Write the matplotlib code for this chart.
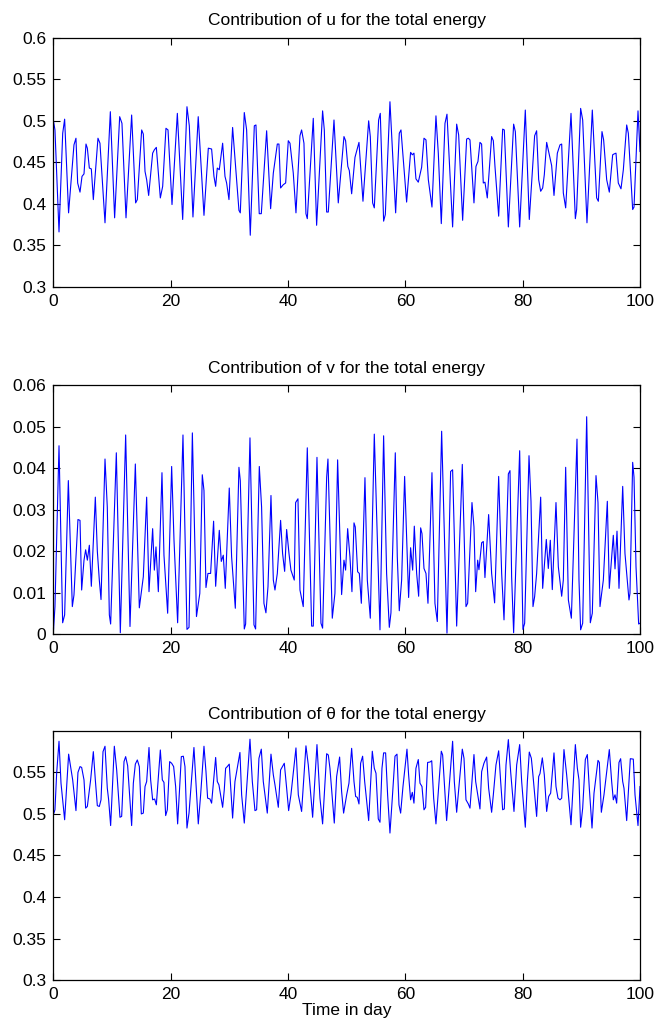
import matplotlib
matplotlib.use("Agg")
import matplotlib.pyplot as plt
from matplotlib.ticker import FormatStrFormatter

plt.rcParams["font.family"] = ["Liberation Sans", "DejaVu Sans"]

# Contribution of u (vertices)
t_u = [0, 0.28, 0.97, 1.6, 1.93, 2.6, 3.52, 3.86, 4.15, 4.55, 4.89, 5.23, 5.57, 5.8, 6.14, 6.48, 6.82,
       7.61, 7.95, 8.81, 9.72, 10.45, 11.31, 11.7, 12.39, 13.35, 14.03, 14.32, 15.06, 15.34, 15.63,
       15.91, 16.25, 16.93, 17.22, 17.56, 18.24, 18.64, 19.2, 19.55, 20.23, 21.14, 22.05, 22.78,
       23.18, 23.8, 24.7,
       25.68, 26.42, 26.98, 27.38, 27.67, 27.95, 28.29, 28.86, 29.26, 29.54, 29.94, 30.56, 31.64,
       31.87, 32.55, 32.95, 33.57, 34.26, 34.54, 35.1, 35.45, 36.36, 37.04, 37.5, 38.18, 38.46,
       38.74, 39.2, 39.6, 40.05, 40.34, 40.9, 41.36, 42.04, 42.32, 42.72, 43.06, 43.29, 44.31,
       44.88, 45.9, 46.19, 46.59, 46.87, 47.84, 48.57, 49.54, 49.82,
       50.2, 50.45, 50.85, 51.42, 52.1, 52.78, 53.75, 54.03, 54.43, 54.71, 55.45, 55.73, 56.3,
       56.59, 57.38, 58.35, 58.97, 59.26, 60.22, 60.9, 61.19, 61.47, 61.81, 62.21, 62.78, 63.18,
       63.52, 63.92, 64.54, 65.22, 65.62, 66.13, 66.76, 67.1, 68.06, 68.75, 69.09, 69.77, 70.45,
       70.74, 71.02, 71.7, 72.04, 72.38, 72.72, 73.0, 73.29, 73.57, 73.97, 74.71, 75.0,
       75.28, 75.91, 76.59, 76.87, 77.56, 78.46, 78.75, 79.49, 80.45, 81.13, 82.04, 82.38, 82.73,
       83.07, 83.41, 83.69, 84.09, 84.49, 84.94, 85.34, 85.91, 86.36, 86.65, 86.93, 87.33, 88.24,
       88.98, 89.2, 89.88, 90.23, 90.96, 91.87, 92.61, 92.9, 93.52, 93.8, 94.32, 94.77, 95.34,
       95.57, 95.91, 96.3, 96.76, 97.16, 97.73, 98.01, 98.75, 98.98, 99.66, 100]
u_vals = [0.501, 0.489, 0.366, 0.485, 0.502, 0.389, 0.471, 0.479, 0.425, 0.414, 0.433, 0.436, 0.472,
          0.467, 0.443, 0.442, 0.405, 0.479, 0.473, 0.377, 0.511, 0.383, 0.505, 0.497, 0.383, 0.507,
          0.401, 0.405, 0.489, 0.484, 0.439, 0.429, 0.410, 0.461, 0.465, 0.468, 0.407, 0.421, 0.491,
          0.489, 0.399, 0.509, 0.381, 0.517, 0.494, 0.384, 0.505,
          0.386, 0.467, 0.466, 0.433, 0.421, 0.443, 0.441, 0.473, 0.433, 0.425, 0.405, 0.492, 0.392,
          0.389, 0.510, 0.489, 0.362, 0.494, 0.495, 0.388, 0.388, 0.488, 0.394, 0.437, 0.472, 0.472,
          0.419, 0.423, 0.425, 0.476, 0.473, 0.437, 0.389, 0.482, 0.489, 0.473, 0.388, 0.382, 0.503,
          0.374, 0.512, 0.489, 0.390, 0.390, 0.501, 0.401, 0.481, 0.476,
          0.445, 0.440, 0.412, 0.456, 0.474, 0.403, 0.500, 0.481, 0.401, 0.395, 0.501, 0.509, 0.379,
          0.387, 0.523, 0.389, 0.485, 0.489, 0.402, 0.462, 0.459, 0.461, 0.430, 0.426, 0.444, 0.479,
          0.477, 0.429, 0.396, 0.506, 0.461, 0.376, 0.497, 0.508, 0.372, 0.496, 0.483, 0.380, 0.478,
          0.479, 0.477, 0.401, 0.445, 0.451, 0.474, 0.472, 0.425, 0.426, 0.407, 0.481, 0.476,
          0.445, 0.385, 0.490, 0.489, 0.372, 0.496, 0.487, 0.372, 0.513, 0.381, 0.482, 0.488, 0.429,
          0.415, 0.419, 0.435, 0.474, 0.461, 0.446, 0.410, 0.461, 0.471, 0.472, 0.413, 0.395, 0.509,
          0.382, 0.393, 0.515, 0.501, 0.377, 0.513, 0.407, 0.403, 0.487, 0.477, 0.429, 0.414, 0.459,
          0.460, 0.461, 0.425, 0.418, 0.441, 0.495, 0.485, 0.393, 0.396, 0.512, 0.463]

# Contribution of v
t_v = [0, 0.28, 0.97, 1.59, 1.93, 2.56, 3.24, 3.52, 4.2, 4.55, 4.83, 5.23, 5.51, 5.8, 6.14, 6.48,
       7.16, 7.5, 7.84, 8.13, 8.81, 9.2, 9.55, 9.77, 10.74, 11.42, 12.33, 13.07, 13.98, 14.66,
       15.34, 15.91, 16.31, 16.93, 17.22, 17.5, 17.9, 18.52, 18.86, 19.49, 20.17, 20.57, 21.19,
       22.1, 22.78, 23.13, 23.7, 24.4, 24.97,
       25.39, 25.68, 26.02, 26.36, 26.81, 27.32, 27.67, 28.29, 28.63, 28.97, 29.31, 29.99, 30.39,
       31.02, 31.64, 31.87, 32.55, 32.78, 33.52, 34.2, 34.48, 35.11, 35.5, 35.9, 36.24, 36.59,
       37.1, 37.5, 37.78, 38.18, 38.74, 39.08, 39.43, 39.77, 40.17, 40.5, 41.07, 41.3, 41.7,
       42.04, 42.6, 43.29, 44.03, 44.31, 44.94, 45.62, 45.9, 46.59, 46.81, 47.55, 48.0, 48.46,
       49.14, 49.54, 49.82,
       50.17, 50.56, 50.9, 51.25, 51.47, 51.87, 52.16, 52.5, 53.12, 53.52, 54.03, 54.71, 55.68,
       56.3, 56.81, 57.27, 57.55, 58.29, 58.63, 58.97, 59.37, 59.88, 60.56, 60.9, 61.25, 61.53,
       61.93, 62.27, 62.61, 62.84, 63.18, 63.52, 63.86, 64.54, 65.05, 65.45, 66.19, 67.1, 67.72,
       68.06, 68.75, 69.71, 70.34, 70.62, 71.36, 71.7, 71.99, 72.33, 72.55, 73.01, 73.29, 73.57,
       74.2, 74.71,
       75.22, 75.91, 76.42, 76.82, 77.56, 77.84, 78.12, 78.46, 79.49, 80.05, 80.34, 81.08, 81.42,
       81.76, 82.04, 82.38, 83.07, 83.41, 84.03, 84.37, 84.71, 85.05, 85.68, 86.08, 86.65, 86.93,
       87.33, 87.79, 88.3, 89.26, 89.6, 89.88, 90.23, 90.91, 91.53, 91.87, 92.5, 92.84, 93.18,
       93.75, 94.43, 94.77, 95.45, 95.74, 96.08, 96.42, 97.05, 97.44, 98.12, 98.29, 98.75, 98.98,
       99.32, 99.77, 100]
v_vals = [0.0002, 0.0066, 0.0454, 0.0027, 0.0046, 0.037, 0.0066, 0.0094, 0.0276, 0.0274, 0.0106,
          0.0178, 0.0203, 0.0178, 0.0214, 0.0115, 0.033, 0.020, 0.013, 0.0083, 0.0422, 0.0306,
          0.0046, 0.0024, 0.0437, 0.0003, 0.048, 0.0018, 0.041, 0.0063, 0.0138, 0.033, 0.0102,
          0.0254, 0.0154, 0.021, 0.0102, 0.0389, 0.019, 0.005, 0.0404, 0.0226, 0.0027, 0.048,
          0.0011, 0.0016, 0.0485, 0.0042, 0.0098,
          0.0384, 0.0346, 0.0112, 0.0146, 0.0146, 0.0272, 0.0115, 0.025, 0.0175, 0.019, 0.011,
          0.0352, 0.0186, 0.0062, 0.0402, 0.037, 0.0012, 0.0024, 0.0473, 0.0022, 0.0012, 0.0404,
          0.0306, 0.0074, 0.0051, 0.0114, 0.0334, 0.013, 0.0106, 0.0146, 0.0274, 0.0194, 0.0151,
          0.0252, 0.0194, 0.0154, 0.013, 0.0317, 0.0326, 0.0106, 0.0066, 0.0449, 0.0019, 0.0019,
          0.0426, 0.0026, 0.0014, 0.0378, 0.0422, 0.0038, 0.0098, 0.042, 0.0095, 0.0178, 0.0154,
          0.0254, 0.0186, 0.0102, 0.0268, 0.0258, 0.015, 0.0146, 0.0074, 0.0377, 0.013, 0.0038,
          0.0482, 0.001, 0.0478, 0.0146, 0.0016, 0.0051, 0.0437, 0.0186, 0.0056, 0.013, 0.038,
          0.0088, 0.0208, 0.0154, 0.026, 0.0146, 0.0091, 0.0256, 0.0242, 0.0158, 0.0146, 0.0074,
          0.0389, 0.0074, 0.003, 0.0489, 0.0002, 0.0392, 0.0396, 0.0019, 0.0409, 0.0066, 0.0074,
          0.0317, 0.0258, 0.0102, 0.0178, 0.0155, 0.022, 0.0223, 0.0136, 0.0288, 0.0146,
          0.0075, 0.038, 0.0146, 0.0034, 0.0386, 0.0394, 0.0138, 0.0003, 0.0442, 0.0011, 0.0026,
          0.043, 0.032, 0.0066, 0.009, 0.0146, 0.033, 0.011, 0.0228, 0.0158, 0.0226, 0.0107,
          0.0317, 0.0162, 0.0091, 0.013, 0.0402, 0.0082, 0.0038, 0.047, 0.013, 0.001, 0.0026,
          0.0524, 0.0027, 0.005, 0.0382, 0.0317, 0.0066, 0.013, 0.032, 0.011, 0.0238, 0.0157,
          0.0248, 0.011, 0.0356, 0.0194, 0.0082, 0.0098, 0.0414, 0.0378, 0.0162, 0.0024, 0.0026]

# Contribution of theta
t_th = [0, 0.28, 0.57, 0.97, 1.31, 1.93, 2.61, 2.95, 3.3, 3.86, 4.2, 4.55, 4.83, 5.23, 5.51, 5.8,
        6.14, 6.36, 6.82, 7.16, 7.5, 7.84, 8.13, 8.47, 8.81, 9.2, 9.43, 9.77, 10.4, 10.8, 11.36,
        11.65, 12.05, 12.33, 12.67, 13.35, 13.64, 13.98, 14.32, 14.66, 15.0, 15.34, 15.63, 15.91,
        16.31, 16.59, 16.93, 17.27, 17.56, 18.24, 18.58, 18.86, 19.15, 19.43, 19.83, 20.17, 20.51,
        20.85, 21.19, 21.82, 22.16, 22.44, 22.78, 23.13, 23.97, 24.71,
        25.11, 25.68, 26.02, 26.3, 26.7, 26.98, 27.67, 27.95, 28.23, 28.86, 29.14, 29.37, 29.65,
        29.99, 30.28, 30.56, 30.96, 31.81, 32.1, 32.55, 33.52, 33.92, 34.37, 34.65, 35.05, 35.45,
        35.79, 36.47, 37.1, 37.5, 37.78, 38.35, 38.74, 39.37, 39.77, 40.11, 40.5, 41.36, 41.76,
        42.32, 43.06, 43.46, 44.2, 44.94, 45.45, 45.9, 46.59, 46.87, 47.15, 47.89, 48.29, 48.8,
        49.14, 49.48,
        50.0, 50.39, 50.85, 51.25, 51.53, 51.81, 52.1, 52.38, 52.72, 53.07, 53.75, 54.37, 54.71,
        55.0, 55.39, 55.68, 56.02, 56.3, 56.64, 56.98, 57.38, 57.78, 58.24, 58.58, 58.92, 59.2,
        59.6, 60.28, 60.56, 60.9, 61.19, 61.47, 61.81, 62.21, 62.5, 62.84, 63.18, 63.46, 63.8,
        64.2, 64.5, 64.83, 65.22, 66.13, 66.36, 67.04, 68.06, 68.35, 68.75, 69.71, 70.0, 70.34,
        70.74, 71.02, 71.7, 71.99, 72.72, 73.01, 73.4, 73.86, 74.2, 74.71,
        75.0, 75.45, 75.91, 76.25, 76.59, 76.87, 77.16, 77.56, 77.95, 78.52, 78.98, 79.49, 79.83,
        80.45, 80.8, 81.13, 81.48, 81.7, 82.38, 82.73, 82.95, 83.35, 83.69, 84.09, 84.43, 84.77,
        85.34, 85.68, 86.02, 86.36, 86.65, 87.04, 87.5, 88.24, 88.98, 89.32, 89.6, 89.88, 90.23,
        90.68, 91.02, 91.36, 91.82, 92.16, 92.84, 93.07, 93.41, 93.86, 94.77, 95.17, 95.45, 95.74,
        96.02, 96.42, 96.7, 97.05, 97.27, 97.73, 98.35, 98.86, 99.15, 99.66, 100]
th_vals = [0.499, 0.505, 0.549, 0.5875, 0.537, 0.493, 0.572, 0.557, 0.541, 0.504, 0.550, 0.557,
           0.556, 0.541, 0.507, 0.509, 0.529, 0.541, 0.575, 0.541, 0.510, 0.509, 0.517, 0.575,
           0.5815, 0.531, 0.517, 0.486, 0.5815, 0.553, 0.496, 0.497, 0.563, 0.569, 0.558, 0.486,
           0.537, 0.560, 0.565, 0.557, 0.500, 0.501, 0.533, 0.539, 0.580, 0.541, 0.517, 0.518,
           0.511, 0.577, 0.541, 0.538, 0.498, 0.505, 0.563, 0.561, 0.557, 0.533, 0.488, 0.569,
           0.5695, 0.557, 0.483, 0.501, 0.580, 0.488,
           0.523, 0.5815, 0.551, 0.519, 0.518, 0.513, 0.568, 0.539, 0.535, 0.508, 0.529, 0.555,
           0.557, 0.560, 0.527, 0.495, 0.539, 0.574, 0.523, 0.489, 0.590, 0.539, 0.504, 0.505,
           0.567, 0.578, 0.539, 0.501, 0.572, 0.547, 0.535, 0.508, 0.553, 0.561, 0.531, 0.504,
           0.523, 0.5795, 0.523, 0.503, 0.582, 0.559, 0.496, 0.5835, 0.519, 0.488, 0.5725, 0.571,
           0.555, 0.489, 0.545, 0.5685, 0.527, 0.501,
           0.523, 0.537, 0.579, 0.539, 0.521, 0.520, 0.512, 0.561, 0.5695, 0.539, 0.492, 0.5755,
           0.555, 0.549, 0.494, 0.490, 0.555, 0.5735, 0.5735, 0.523, 0.477, 0.519, 0.5695, 0.572,
           0.511, 0.501, 0.533, 0.578, 0.547, 0.517, 0.526, 0.513, 0.555, 0.5655, 0.537, 0.533,
           0.505, 0.508, 0.562, 0.5625, 0.564, 0.519, 0.488, 0.5755, 0.571, 0.492, 0.5875, 0.539,
           0.502, 0.578, 0.567, 0.517, 0.512, 0.507, 0.5715, 0.539, 0.506, 0.551, 0.561, 0.5685,
           0.531, 0.502,
           0.523, 0.559, 0.576, 0.539, 0.505, 0.506, 0.559, 0.5895, 0.551, 0.503, 0.559, 0.5835,
           0.539, 0.484, 0.539, 0.5745, 0.567, 0.551, 0.497, 0.545, 0.5485, 0.5675, 0.547, 0.503,
           0.521, 0.525, 0.5735, 0.533, 0.519, 0.517, 0.519, 0.5775, 0.547, 0.487, 0.5835, 0.555,
           0.541, 0.484, 0.507, 0.5655, 0.5715, 0.531, 0.483, 0.525, 0.5645, 0.562, 0.502, 0.523,
           0.5775, 0.539, 0.517, 0.523, 0.513, 0.562, 0.5665, 0.539, 0.531, 0.492, 0.5665, 0.566,
           0.523, 0.486, 0.533]

x_ticks = [0, 20, 40, 60, 80, 100]
u_ticks = [0.3, 0.35, 0.4, 0.45, 0.5, 0.55, 0.6]
v_ticks = [0, 0.01, 0.02, 0.03, 0.04, 0.05, 0.06]
th_ticks = [0.3, 0.35, 0.4, 0.45, 0.5, 0.55]

titles = ["Contribution of u for the total energy",
          "Contribution of v for the total energy",
          "Contribution of \u03b8 for the total energy"]

fig = plt.figure(figsize=(6.55, 10.30), dpi=100)
left, width, height = 0.0814, 0.8957, 0.2415
bottoms = [0.7217, 0.3845, 0.0485]

series = [(t_u, u_vals, u_ticks, (0.3, 0.6)),
          (t_v, v_vals, v_ticks, (0, 0.06)),
          (t_th, th_vals, th_ticks, (0.3, 0.5995))]

for i, (t, vals, yt, ylim) in enumerate(series):
    ax = fig.add_axes([left, bottoms[i], width, height])
    ax.plot(t, vals, color="#0000ff", lw=0.8)
    ax.set_xlim(0, 100)
    ax.set_ylim(*ylim)
    ax.set_xticks(x_ticks)
    ax.set_yticks(yt)
    ax.yaxis.set_major_formatter(FormatStrFormatter("%g"))
    ax.tick_params(direction="in", top=True, right=True, length=5, width=0.8,
                   labelsize=12.5, pad=5)
    for s in ax.spines.values():
        s.set_linewidth(0.9)
    ax.set_title(titles[i], fontsize=12.5, pad=9)
    if i == 2:
        ax.set_xlabel("Time in day", fontsize=12.5, labelpad=1)

fig.savefig("out.png", dpi=100)
